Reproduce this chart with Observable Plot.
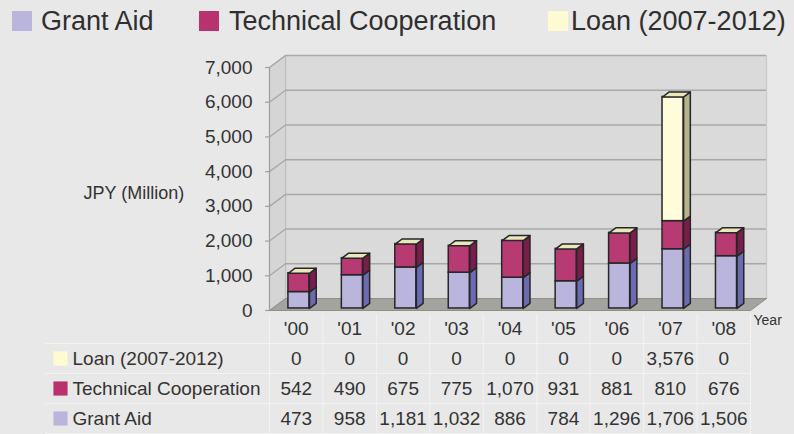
<!DOCTYPE html>
<html><head><meta charset="utf-8">
<script src="https://cdn.jsdelivr.net/npm/d3@7"></script>
<script src="https://cdn.jsdelivr.net/npm/@observablehq/plot@0.6"></script>
<style>
html,body{margin:0;padding:0;background:#e8e8e8;}
body{width:794px;height:434px;overflow:hidden;font-family:"Liberation Sans",Arial,Helvetica,sans-serif;color:#333;}
#legend{position:relative;height:42px;}
#legend .sw{position:absolute;top:11px;width:20px;height:20px;}
#legend .lt{position:absolute;top:0;line-height:42px;font-size:27px;color:#2f2f2f;white-space:nowrap;}
svg{display:block;}
</style></head><body>
<div id="legend"></div>
<div id="chart"></div>
<div id="table"></div>
<script>
// ---- data ----
const years = ["'00","'01","'02","'03","'04","'05","'06","'07","'08"];
const grantAid = [473, 958, 1181, 1032, 886, 784, 1296, 1706, 1506];
const technicalCooperation = [542, 490, 675, 775, 1070, 931, 881, 810, 676];
const loan = [0, 0, 0, 0, 0, 0, 0, 3576, 0];
const seriesNames = ["Grant Aid", "Technical Cooperation", "Loan (2007-2012)"];
const yTicks = [0, 1000, 2000, 3000, 4000, 5000, 6000, 7000];
const yLabel = "JPY (Million)";
const xLabel = "Year";

// ---- styles ----
const frontColors = ["#b9b5dc", "#b73a72", "#fffcdb"];
const sideColors = ["#6b6bb3", "#7a1d4b", "#b6b48c"];
const swatchColors = ["#b9b5dc", "#b8336d", "#fefbd2"];
const topColor = "#eae8bb";
const EDGE = "#262626";
const FONT = '"Liberation Sans", Arial, Helvetica, sans-serif';
const fmt = d3.format(",");

// ---- legend (HTML) ----
const legendSwatchLeft = [12, 199, 548];
const legendTextLeft = [41, 229, 571];
const legend = document.getElementById("legend");
seriesNames.forEach((name, k) => {
  const sw = document.createElement("span");
  sw.className = "sw"; sw.style.left = legendSwatchLeft[k] + "px"; sw.style.background = swatchColors[k];
  const t = document.createElement("span");
  t.className = "lt"; t.style.left = legendTextLeft[k] + "px"; t.textContent = name;
  legend.appendChild(sw); legend.appendChild(t);
});

// ---- 3D geometry (depth expressed in scale units) ----
const DX = 0.3, DY = 345;         // full floor depth
const F0 = 0.17, F1 = 0.59;       // bar front / back depth fractions
const HW = 0.197;                 // bar half width
const X0 = -0.5, X1 = years.length - 0.5, YMAX = yTicks[yTicks.length - 1];
function poly(id, pts) { return pts.concat([pts[0]]).map(([x, y]) => ({id, x, y})); }

const backWall = poly("back", [[X0 + DX, DY], [X1 + DX, DY], [X1 + DX, YMAX + DY], [X0 + DX, YMAX + DY]]);
const leftWall = poly("left", [[X0, 0], [X0 + DX, DY], [X0 + DX, YMAX + DY], [X0, YMAX]]);
const floor = poly("floor", [[X0, 0], [X1, 0], [X1 + DX, DY], [X0 + DX, DY]]);

const seriesValues = [grantAid, technicalCooperation, loan];
const segs = [];
years.forEach((yr, i) => {
  let base = 0;
  seriesValues.forEach((vals, k) => {
    const v = vals[i];
    if (v > 0) segs.push({i, k, y1: base, y2: base + v});
    base += v;
  });
});
const totals = years.map((_, i) => seriesValues.reduce((a, vals) => a + vals[i], 0));

const sidePolys = seriesValues.map((_, k) => segs.filter(d => d.k === k).flatMap((d, j) => poly(k + "-" + j, [
  [d.i + HW + F0 * DX, d.y1 + F0 * DY],
  [d.i + HW + F1 * DX, d.y1 + F1 * DY],
  [d.i + HW + F1 * DX, d.y2 + F1 * DY],
  [d.i + HW + F0 * DX, d.y2 + F0 * DY]
])));
const topPolys = totals.flatMap((t, i) => poly("top" + i, [
  [i - HW + F0 * DX, t + F0 * DY],
  [i + HW + F0 * DX, t + F0 * DY],
  [i + HW + F1 * DX, t + F1 * DY],
  [i - HW + F1 * DX, t + F1 * DY]
]));

const gridTicks = yTicks.filter(t => t > 0);

const chart = Plot.plot({
  width: 794, height: 272,
  marginLeft: 269, marginRight: 44, marginTop: 25, marginBottom: 4,
  x: {domain: [X0, X1], axis: null},
  y: {domain: [0, YMAX], axis: null},
  style: {background: "transparent", fontFamily: FONT, color: "#333", overflow: "visible"},
  marks: [
    Plot.line(backWall, {x: "x", y: "y", z: "id", fill: "#dadada", stroke: "#c9c9c9", strokeWidth: 1.2}),
    Plot.line(leftWall, {x: "x", y: "y", z: "id", fill: "#d5d5d5", stroke: "#bdbdbd", strokeWidth: 1.2}),
    Plot.ruleY(gridTicks, {y: t => t + DY, x1: X0 + DX, x2: X1 + DX, stroke: "#a8a8a8", strokeWidth: 1.5}),
    Plot.link(gridTicks, {x1: X0, y1: t => t, x2: X0 + DX, y2: t => t + DY, stroke: "#a8a8a8", strokeWidth: 1.3}),
    Plot.line(floor, {x: "x", y: "y", z: "id", fill: "#a4a49e", stroke: "#8f8f89", strokeWidth: 1}),
    Plot.ruleX([X0], {y1: 0, y2: YMAX, stroke: "#a0a0a0", strokeWidth: 1.2}),
    Plot.ruleY(yTicks, {x1: X0, x2: X0, insetLeft: -4, stroke: "#a0a0a0", strokeWidth: 1.2}),
    Plot.text(yTicks, {y: d => d, frameAnchor: "left", dx: -17, textAnchor: "end", text: d => fmt(d), fontSize: 19, fill: "#333"}),
    Plot.text([yLabel], {frameAnchor: "left", dx: -186, dy: 4, textAnchor: "start", fontSize: 18, fill: "#333"}),
    ...seriesValues.map((_, k) => Plot.rect(segs.filter(d => d.k === k), {
      x1: d => d.i - HW + F0 * DX, x2: d => d.i + HW + F0 * DX,
      y1: d => d.y1 + F0 * DY, y2: d => d.y2 + F0 * DY,
      fill: frontColors[k], stroke: EDGE, strokeWidth: 1.5
    })),
    ...sidePolys.map((pts, k) => Plot.line(pts, {x: "x", y: "y", z: "id", fill: sideColors[k], stroke: EDGE, strokeWidth: 1.5, strokeLinejoin: "round"})),
    Plot.line(topPolys, {x: "x", y: "y", z: "id", fill: topColor, stroke: EDGE, strokeWidth: 1.5, strokeLinejoin: "round"})
  ]
});
document.getElementById("chart").appendChild(chart);

// ---- data table ----
const rows = [
  {label: seriesNames[2], values: loan, color: swatchColors[2]},
  {label: seriesNames[1], values: technicalCooperation, color: swatchColors[1]},
  {label: seriesNames[0], values: grantAid, color: swatchColors[0]}
];
const cells = rows.flatMap((r, ri) => r.values.map((v, i) => ({i, row: ri + 1, text: fmt(v)})));
const boundaries = years.map((_, i) => i - 0.5).concat([X1]);

const table = Plot.plot({
  width: 794, height: 120,
  marginLeft: 269, marginRight: 44, marginTop: 0, marginBottom: 0,
  x: {domain: [X0, X1], axis: null},
  y: {domain: [0, 4], range: [-1, 119], axis: null},
  color: {type: "identity"},
  style: {background: "transparent", fontFamily: FONT, color: "#333", overflow: "visible"},
  marks: [
    Plot.ruleX(boundaries, {stroke: "#f3f3f3", strokeWidth: 1}),
    Plot.ruleY([1, 2, 3, 4], {stroke: "#f3f3f3", strokeWidth: 1, insetLeft: -224}),
    Plot.text(years, {x: (d, i) => i, y: 0.5, text: d => d, fontSize: 19}),
    Plot.text([xLabel], {frameAnchor: "right", y: 0.5, dx: 3, dy: -8, textAnchor: "start", fontSize: 14}),
    Plot.dot(rows, {y: (d, i) => i + 1.5, frameAnchor: "left", dx: -209, symbol: "square", r: 8, fill: d => d.color}),
    Plot.text(rows, {y: (d, i) => i + 1.5, frameAnchor: "left", dx: -197, text: "label", textAnchor: "start", fontSize: 19}),
    Plot.text(cells, {x: "i", y: d => d.row + 0.5, text: "text", fontSize: 19})
  ]
});
document.getElementById("table").appendChild(table);
</script></body></html>
